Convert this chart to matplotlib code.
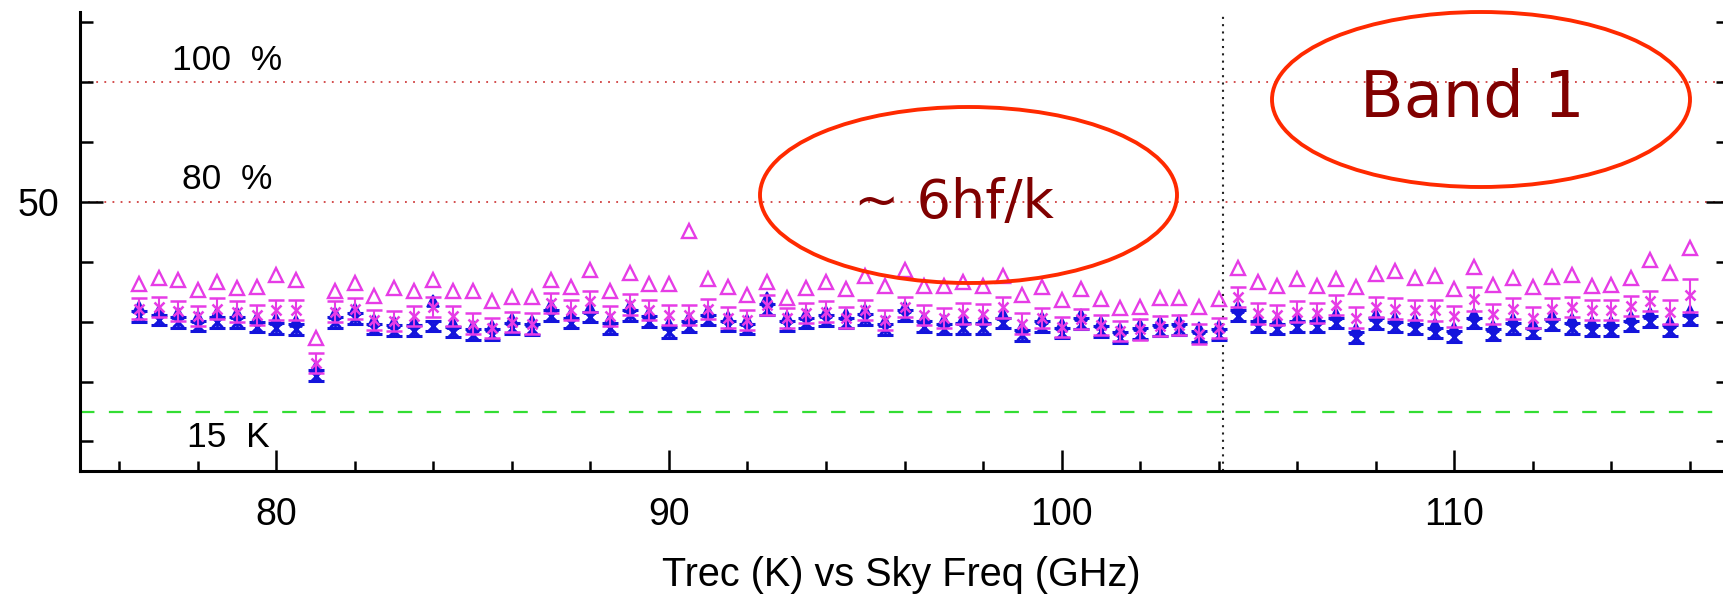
import matplotlib
matplotlib.use("Agg")
import matplotlib.pyplot as plt
from matplotlib.patches import Ellipse
from matplotlib.ticker import FixedLocator

# ---------------- data ----------------
freq = [76.5, 77.0, 77.5, 78.0, 78.5, 79.0, 79.5, 80.0, 80.5, 81.0,
        81.5, 82.0, 82.5, 83.0, 83.5, 84.0, 84.5, 85.0, 85.5, 86.0,
        86.5, 87.0, 87.5, 88.0, 88.5, 89.0, 89.5, 90.0, 90.5, 91.0,
        91.5, 92.0, 92.5, 93.0, 93.5, 94.0, 94.5, 95.0, 95.5, 96.0,
        96.5, 97.0, 97.5, 98.0, 98.5, 99.0, 99.5, 100.0, 100.5, 101.0,
        101.5, 102.0, 102.5, 103.0, 103.5, 104.0, 104.5, 105.0, 105.5, 106.0,
        106.5, 107.0, 107.5, 108.0, 108.5, 109.0, 109.5, 110.0, 110.5, 111.0,
        111.5, 112.0, 112.5, 113.0, 113.5, 114.0, 114.5, 115.0, 115.5, 116.0]

# pol 1 (magenta): maximum (open triangle), mean and spread (x with error bar)
mag_max = [36.3, 37.3, 36.9, 35.3, 36.7, 35.6, 35.8, 37.8, 37.0, 27.3,
           35.1, 36.4, 34.3, 35.6, 35.2, 37.0, 35.1, 35.1, 33.5, 34.1,
           34.1, 37.0, 35.8, 38.6, 35.1, 38.2, 36.3, 36.3, 45.1, 37.2,
           35.8, 34.4, 36.6, 33.9, 35.6, 36.7, 35.4, 37.6, 35.9, 38.6,
           36.0, 35.9, 36.7, 36.0, 37.6, 34.5, 35.8, 33.7, 35.4, 33.8,
           32.3, 32.4, 33.9, 33.9, 32.4, 33.8, 39.0, 36.7, 36.0, 37.1,
           36.0, 37.1, 35.8, 38.0, 38.4, 37.3, 37.6, 35.4, 39.1, 36.2,
           37.3, 35.8, 37.4, 37.8, 36.0, 36.2, 37.3, 40.3, 38.1, 42.3]
mag_mean = [32.2, 32.5, 31.8, 31.0, 32.2, 31.7, 31.1, 32.0, 32.0, 23.1,
            31.7, 32.2, 30.3, 30.1, 31.0, 32.5, 31.0, 29.7, 28.9, 30.0,
            29.7, 33.1, 32.0, 33.4, 31.0, 32.9, 32.0, 31.1, 31.1, 32.1,
            30.7, 30.3, 32.8, 30.6, 31.5, 31.7, 30.7, 32.0, 30.3, 32.5,
            31.1, 30.6, 31.4, 31.3, 32.4, 29.7, 30.6, 29.1, 30.4, 29.5,
            28.4, 28.7, 29.3, 29.5, 28.0, 28.9, 34.1, 31.4, 31.1, 31.7,
            31.5, 32.8, 30.7, 32.5, 32.2, 32.0, 31.9, 30.9, 33.8, 31.3,
            32.2, 30.7, 32.2, 32.5, 32.0, 32.0, 32.6, 33.5, 31.7, 34.4]
mag_err = [1.7, 1.7, 1.7, 1.7, 1.7, 1.7, 1.7, 1.7, 1.7, 1.7,
           1.7, 1.7, 1.7, 1.7, 1.7, 1.7, 1.7, 1.7, 1.7, 1.7,
           1.7, 1.7, 1.7, 1.7, 1.7, 1.7, 1.7, 1.7, 1.7, 1.7,
           1.7, 1.7, 1.7, 1.7, 1.7, 1.7, 1.7, 1.7, 1.7, 1.7,
           1.7, 1.7, 1.7, 1.7, 1.7, 1.7, 1.7, 1.7, 1.7, 1.7,
           1.7, 1.7, 1.7, 1.7, 1.7, 1.7, 1.7, 1.7, 1.7, 1.7,
           1.7, 1.7, 1.7, 1.7, 1.7, 1.7, 1.7, 1.7, 2.0, 1.7,
           1.7, 1.7, 1.7, 1.7, 1.7, 1.7, 1.7, 1.7, 2.0, 2.8]

# pol 0 (blue): maximum (triangle), mean and spread (x with error bar)
blue_max = [32.4, 31.8, 31.4, 30.8, 31.4, 31.4, 30.6, 30.4, 30.2, 22.5,
            31.4, 32.1, 30.3, 30.0, 30.0, 33.4, 29.8, 29.3, 29.3, 30.4,
            30.2, 32.8, 31.3, 32.3, 30.4, 32.6, 31.5, 29.7, 30.7, 31.8,
            30.8, 30.3, 34.0, 30.8, 31.3, 31.7, 31.3, 31.9, 30.2, 32.5,
            30.7, 30.3, 30.4, 30.4, 31.3, 29.2, 30.7, 29.6, 31.2, 29.9,
            28.8, 29.5, 30.0, 30.2, 29.0, 29.3, 32.5, 30.7, 30.3, 30.7,
            30.7, 31.3, 28.8, 31.2, 30.6, 30.3, 29.6, 29.0, 31.3, 29.3,
            30.4, 29.6, 31.0, 30.4, 30.0, 30.0, 30.8, 31.5, 30.0, 31.8]
blue_mean = [30.9, 30.3, 29.9, 29.3, 29.9, 29.9, 29.1, 28.9, 28.7, 21.0,
             29.9, 30.6, 28.8, 28.5, 28.5, 29.3, 28.3, 27.8, 27.8, 28.9,
             28.7, 31.0, 29.8, 30.8, 28.9, 31.1, 30.0, 28.2, 29.2, 30.3,
             29.3, 28.8, 32.0, 29.3, 29.8, 30.2, 29.8, 30.4, 28.7, 31.0,
             29.2, 28.8, 28.9, 28.9, 29.8, 27.7, 29.2, 28.1, 29.7, 28.4,
             27.3, 28.0, 28.5, 28.7, 27.5, 27.8, 31.0, 29.2, 28.8, 29.2,
             29.2, 29.8, 27.3, 29.7, 29.1, 28.8, 28.1, 27.5, 29.8, 27.8,
             28.9, 28.1, 29.5, 28.9, 28.5, 28.5, 29.3, 30.0, 28.5, 30.3]
blue_err = [0.9] * 80

spec_levels = [70, 50]          # 100 % and 80 % specification lines (K)
spec_labels = ["100  %", "80  %"]
floor_level = 15                # 15 K line
floor_label = "15  K"
band_edge = 104.1               # GHz, vertical dotted line

# ---------------- figure ----------------
W, H = 1724, 594
fig = plt.figure(figsize=(W / 100, H / 100), dpi=100)
ax = fig.add_axes([80 / W, 1 - 471 / H, (1729 - 80) / W, (471 - 12) / H])

mag_c = "#e63ce6"
blue_c = "#1414dc"
FONT = "Liberation Sans"

ax.set_xlim(75, 117)
ax.set_ylim(5.06, 81.74)

# reference lines
for lev in spec_levels:
    ax.axhline(lev, color="#d04040", lw=1.3, ls=(0, (1, 3.5)), zorder=1)
ax.axhline(floor_level, color="#33dd33", lw=1.6, ls=(0, (6.5, 6.5)), zorder=1)
ax.axvline(band_edge, color="#222222", lw=1.5, ls=(0, (1, 2.5)), zorder=1)

# blue pol
ax.errorbar(freq, blue_mean, yerr=blue_err, fmt="x", color=blue_c, ms=7.5, mew=2.2,
            elinewidth=2.0, capsize=5.5, capthick=2.4, zorder=3)
ax.plot(freq, blue_max, ls="none", marker="^", ms=8, mfc=blue_c, mec=blue_c,
        mew=1.2, zorder=3)

# magenta pol
ax.errorbar(freq, mag_mean, yerr=mag_err, fmt="x", color=mag_c, ms=7.5, mew=1.8,
            elinewidth=1.5, capsize=5.5, capthick=1.9, zorder=4)
ax.plot(freq, mag_max, ls="none", marker="^", ms=9.5, mfc="none", mec=mag_c,
        mew=1.7, zorder=4)

# spines / ticks
for s in ["top", "right"]:
    ax.spines[s].set_visible(False)
for s in ["left", "bottom"]:
    ax.spines[s].set_linewidth(2.2)

ax.xaxis.set_major_locator(FixedLocator([80, 90, 100, 110]))
ax.xaxis.set_minor_locator(FixedLocator([76, 78, 82, 84, 86, 88, 92, 94, 96, 98,
                                         102, 104, 106, 108, 112, 114, 116]))
ax.yaxis.set_major_locator(FixedLocator([50]))
ax.yaxis.set_minor_locator(FixedLocator([10, 20, 30, 40, 60, 70, 80]))
ax.tick_params(axis="both", which="both", direction="in", width=1.8, colors="black")
ax.tick_params(axis="x", which="major", length=15, pad=19)
ax.tick_params(axis="x", which="minor", length=7.5)
ax.tick_params(axis="y", which="major", length=16.5, pad=15, right=True)
ax.tick_params(axis="y", which="minor", length=9.5, right=True)
for lab in ax.get_xticklabels() + ax.get_yticklabels():
    lab.set_fontfamily(FONT)
    lab.set_fontsize(27)

# in-plot labels
ax.text(77.35, 72.05, spec_labels[0], fontsize=25.5, family=FONT, ha="left", va="baseline")
ax.text(77.6, 52.17, spec_labels[1], fontsize=25.5, family=FONT, ha="left", va="baseline")
ax.text(77.73, 9.12, floor_label, fontsize=25.5, family=FONT, ha="left", va="baseline")

# x label
fig.text(901 / W, 1 - 586 / H, "Trec (K) vs Sky Freq (GHz)", fontsize=28.5,
         family=FONT, ha="center", va="baseline")

# annotations
red_ring = "#ff2a00"
fig.patches.append(Ellipse((968.5 / W, 1 - 195 / H), 417 / W, 176 / H,
                           transform=fig.transFigure, fill=False,
                           ec=red_ring, lw=2.8, zorder=10))
fig.patches.append(Ellipse((1481 / W, 1 - 99.5 / H), 418 / W, 175 / H,
                           transform=fig.transFigure, fill=False,
                           ec=red_ring, lw=2.8, zorder=10))
fig.text(954 / W, 1 - 218 / H, "~ 6hf/k", fontsize=39, color="#800000",
         family="DejaVu Sans", ha="center", va="baseline")
fig.text(1472 / W, 1 - 117 / H, "Band 1", fontsize=46, color="#800000",
         family="DejaVu Sans", ha="center", va="baseline")

fig.savefig("out.png", dpi=100)
